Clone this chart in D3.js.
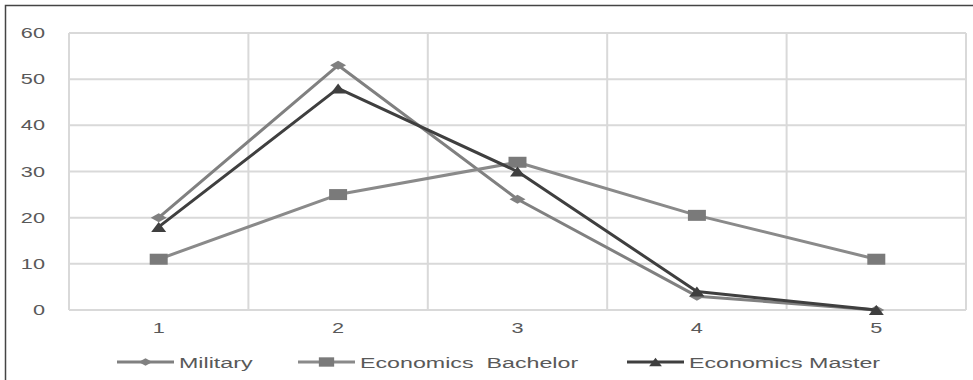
<!DOCTYPE html>
<html>
<head>
<meta charset="utf-8">
<title>Line chart</title>
<script src="https://d3js.org/d3.v7.min.js"></script>
<style>
body {
	margin: 0;
	background-color: white;
}
text {
	font-family: "Liberation Sans", Arial, sans-serif;
	fill: #595959;
}
</style>
</head>
<body>
<div id="chart"></div>
<script>
const categories = ["1", "2", "3", "4", "5"];
const yTicks = [0, 10, 20, 30, 40, 50, 60];
const military = [20, 53, 24, 3, 0];
const bachelor = [11, 25, 32, 20.5, 11];
const master = [18, 48, 30, 4, 0];

const seriesNames = ["Military", "Economics  Bachelor", "Economics Master"];

(function() {
"use strict";
const width = 973, height = 380;
const plot = {left: 69, right: 966, top: 33, bottom: 310};
// the source picture is stretched sideways, so text and markers are too
const sx = 1.55;

const series = [
	{name: seriesNames[0], values: military, color: "#808080", width: 3, marker: "diamond", legendX: 117},
	{name: seriesNames[1], values: bachelor, color: "#8a8a8a", width: 3, marker: "square", legendX: 298},
	{name: seriesNames[2], values: master, color: "#3f3f3f", width: 3, marker: "triangle", legendX: 627}
];

const x = d3.scaleBand(categories, [plot.left, plot.right]);
const y = d3.scaleLinear([0, 60], [plot.bottom, plot.top]);
const cx = c => x(c) + x.bandwidth() / 2;

const svg = d3.select("#chart").append("svg")
	.attr("width", width)
	.attr("height", height);

// frame
svg.append("path")
	.attr("d", "M5.5,380V5.5H973")
	.attr("fill", "none")
	.attr("stroke", "#444")
	.attr("stroke-width", 1.5);

// grid
const grid = svg.append("g").attr("stroke", "#d9d9d9").attr("stroke-width", 2);
grid.selectAll(".h").data(yTicks).join("line")
	.attr("x1", plot.left).attr("x2", plot.right)
	.attr("y1", d => y(d)).attr("y2", d => y(d));
grid.selectAll(".v").data(categories.map(c => x(c)).concat([plot.right])).join("line")
	.attr("x1", d => d).attr("x2", d => d)
	.attr("y1", plot.top).attr("y2", plot.bottom);

function stretchedText(g, tx, ty, s, size, anchor)
{
	g.append("text")
		.attr("transform", "translate(" + tx + "," + ty + ") scale(" + sx + ",1)")
		.attr("text-anchor", anchor)
		.attr("font-size", size)
		.text(s);
}

const yAxis = svg.append("g");
yTicks.forEach(t => stretchedText(yAxis, 45, y(t) + 5, t, 14, "end"));
const xAxis = svg.append("g");
categories.forEach(c => stretchedText(xAxis, cx(c), 333, c, 14, "middle"));

function markerPath(type)
{
	if (type === "diamond") return "M-8,0L0,-4.5L8,0L0,4.5Z";
	if (type === "square") return "M-9,-5.5H9V5.5H-9Z";
	return "M-7.5,5L0,-5L7.5,5Z";
}

const line = d3.line().x((d, i) => cx(categories[i])).y(d => y(d));

for (const s of series) {
	const g = svg.append("g");
	g.append("path")
		.attr("d", line(s.values))
		.attr("fill", "none")
		.attr("stroke", s.color)
		.attr("stroke-width", s.width)
		.attr("stroke-linejoin", "round");
	g.selectAll("path.m").data(s.values).join("path")
		.attr("class", "m")
		.attr("transform", (d, i) => "translate(" + cx(categories[i]) + "," + y(d) + ")")
		.attr("d", markerPath(s.marker))
		.attr("fill", s.marker === "square" ? "#7a7a7a" : s.color);
}

// legend
const legend = svg.append("g");
const ly = 362;
for (const s of series) {
	legend.append("line")
		.attr("x1", s.legendX).attr("x2", s.legendX + 57)
		.attr("y1", ly).attr("y2", ly)
		.attr("stroke", s.color)
		.attr("stroke-width", s.width);
	legend.append("path")
		.attr("transform", "translate(" + (s.legendX + 28.5) + "," + ly + ") scale(0.85)")
		.attr("d", markerPath(s.marker))
		.attr("fill", s.marker === "square" ? "#7a7a7a" : s.color);
	legend.append("text")
		.attr("transform", "translate(" + (s.legendX + 62) + "," + (ly + 5.5) + ") scale(" + sx + ",1)")
		.attr("font-size", 15)
		.style("white-space", "pre")
		.text(s.name);
}
})();
</script>
</body>
</html>
